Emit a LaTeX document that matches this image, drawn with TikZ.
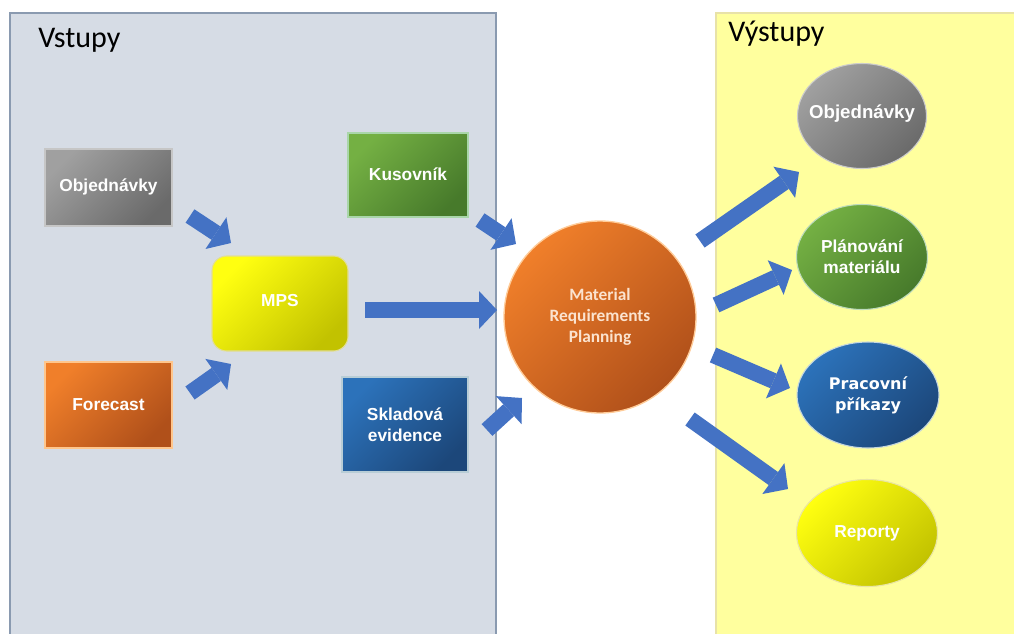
\documentclass[tikz,border=0pt]{standalone}
\usepackage{fontspec}
\setmainfont{Liberation Sans}
\newfontfamily\calibfont{Carlito}
\newfontfamily\dvfont{DejaVu Sans}
\usetikzlibrary{arrows.meta,shapes.geometric}

\definecolor{inpanel}{HTML}{D6DCE5}
\definecolor{inpaneledge}{HTML}{8A9AB0}
\definecolor{outpanel}{HTML}{FFFF9E}
\definecolor{outpaneledge}{HTML}{E8E2A8}
\definecolor{arrowblue}{HTML}{4472C4}
\definecolor{greyL}{HTML}{A0A0A0}
\definecolor{greyD}{HTML}{6A6A6A}
\definecolor{orangeL}{HTML}{F07F2A}
\definecolor{orangeD}{HTML}{B0501A}
\definecolor{yellowL}{HTML}{FFFF10}
\definecolor{yellowD}{HTML}{C2C200}
\definecolor{greenL}{HTML}{74B043}
\definecolor{greenD}{HTML}{477A2B}
\definecolor{blueL}{HTML}{2C72BA}
\definecolor{blueD}{HTML}{1C477A}
\definecolor{mrptext}{HTML}{FBE3CF}

\begin{document}
\begin{tikzpicture}[x=0.75pt,y=-0.75pt,
  boxtext/.style={text=white,font=\bfseries\fontsize{13pt}{15.5pt}\selectfont,align=center,inner sep=0pt},
  panelhead/.style={font=\calibfont\fontsize{22.5pt}{26pt}\selectfont,anchor=base west,inner sep=0pt},
  gradbox/.style 2 args={shade,top color=#1,bottom color=#2,shading angle=45},
  blockarrow/.style={draw=arrowblue,line width=12pt,
    -{Triangle[length=13.5pt,width=28.5pt,line width=0pt]}}]
\useasboundingbox (0,0) rectangle (1014,633);
\fill[white] (0,0) rectangle (1014,633);

% input and output panels
\draw[fill=inpanel,draw=inpaneledge,line width=0.9pt] (10,13) rectangle (496,645);
\draw[fill=outpanel,draw=outpaneledge,line width=0.8pt] (716,13) rectangle (1030,645);
\node[panelhead] (vstupy) at (38,47) {Vstupy};
\node[panelhead] (vystupy) at (728,41) {Výstupy};

% inputs
\node[boxtext,gradbox={greyL}{greyD},draw=gray!45,line width=0.8pt,
  minimum width=95.25pt,minimum height=57.75pt] (obj) at (108.5,187.5) {\raisebox{3pt}{Objednávky}};
\node[boxtext,gradbox={orangeL}{orangeD},draw=orange!45,line width=0.8pt,
  minimum width=95.25pt,minimum height=64.5pt] (fc) at (108.5,405) {Forecast};
\node[boxtext,gradbox={yellowL}{yellowD},draw=yellow!55!gray!60,line width=0.8pt,rounded corners=11pt,
  minimum width=102pt,minimum height=71.25pt] (mps) at (280,303.5) {\raisebox{4pt}{MPS}};
\node[boxtext,gradbox={greenL}{greenD},draw=green!35!gray!50,line width=0.8pt,
  minimum width=90pt,minimum height=63pt] (kus) at (408,175) {\raisebox{2pt}{Kusovník}};
\node[boxtext,gradbox={blueL}{blueD},draw=cyan!30!gray!50,line width=0.8pt,
  minimum width=94.5pt,minimum height=71.25pt] (skl) at (405,424.5) {Skladová\\evidence};

% central process
\node[circle,gradbox={orangeL}{orangeD},draw=orange!40,line width=1pt,
  minimum size=144pt,inner sep=0pt,text=mrptext,align=center,
  font=\calibfont\bfseries\fontsize{13pt}{15.75pt}\selectfont] (mrp) at (600,317)
  {Material\\Requirements\\Planning};

% outputs
\node[ellipse,boxtext,gradbox={greyL}{greyD},draw=gray!40,line width=0.8pt,
  font=\bfseries\fontsize{14pt}{16pt}\selectfont,inner xsep=-6pt,
  minimum width=96.75pt,minimum height=78.75pt] (oobj) at (862,116) {\raisebox{6pt}{Objednávky}};
\node[ellipse,boxtext,gradbox={greenL}{greenD},draw=green!30!gray!40,line width=0.8pt,
  minimum width=98.25pt,minimum height=78.75pt] (plan) at (862,257) {Plánování\\materiálu};
\node[ellipse,boxtext,gradbox={blueL}{blueD},draw=cyan!30!gray!40,line width=0.8pt,
  font=\dvfont\bfseries\fontsize{12pt}{16pt}\selectfont,
  minimum width=106.5pt,minimum height=79.5pt] (prac) at (868,395) {Pracovní\\příkazy};
\node[ellipse,boxtext,gradbox={yellowL}{yellowD},draw=yellow!60!gray!50,line width=0.8pt,
  minimum width=105.75pt,minimum height=80.25pt] (rep) at (867,533) {Reporty};

% arrow end points
\coordinate (objS) at (190,216);  \coordinate (objE) at (231,243);
\coordinate (fcS)  at (190,393);  \coordinate (fcE)  at (231,364);
\coordinate (mpsS) at (365,310);  \coordinate (mpsE) at (497,310);
\coordinate (kusS) at (480,220);  \coordinate (kusE) at (516,244);
\coordinate (sklS) at (487,430);  \coordinate (sklE) at (522,398);
\coordinate (o1S)  at (700,241);  \coordinate (o1E)  at (799,172);
\coordinate (o2S)  at (716,305);  \coordinate (o2E)  at (792,270);
\coordinate (o3S)  at (713,355);  \coordinate (o3E)  at (790,388);
\coordinate (o4S)  at (690,419);  \coordinate (o4E)  at (788,489);

\draw[blockarrow] (objS) -- (objE);
\draw[blockarrow] (fcS) -- (fcE);
\draw[blockarrow] (mpsS) -- (mpsE);
\draw[blockarrow] (kusS) -- (kusE);
\draw[blockarrow] (sklS) -- (sklE);
\draw[blockarrow] (o1S) -- (o1E);
\draw[blockarrow] (o2S) -- (o2E);
\draw[blockarrow] (o3S) -- (o3E);
\draw[blockarrow] (o4S) -- (o4E);
\end{tikzpicture}
\end{document}
